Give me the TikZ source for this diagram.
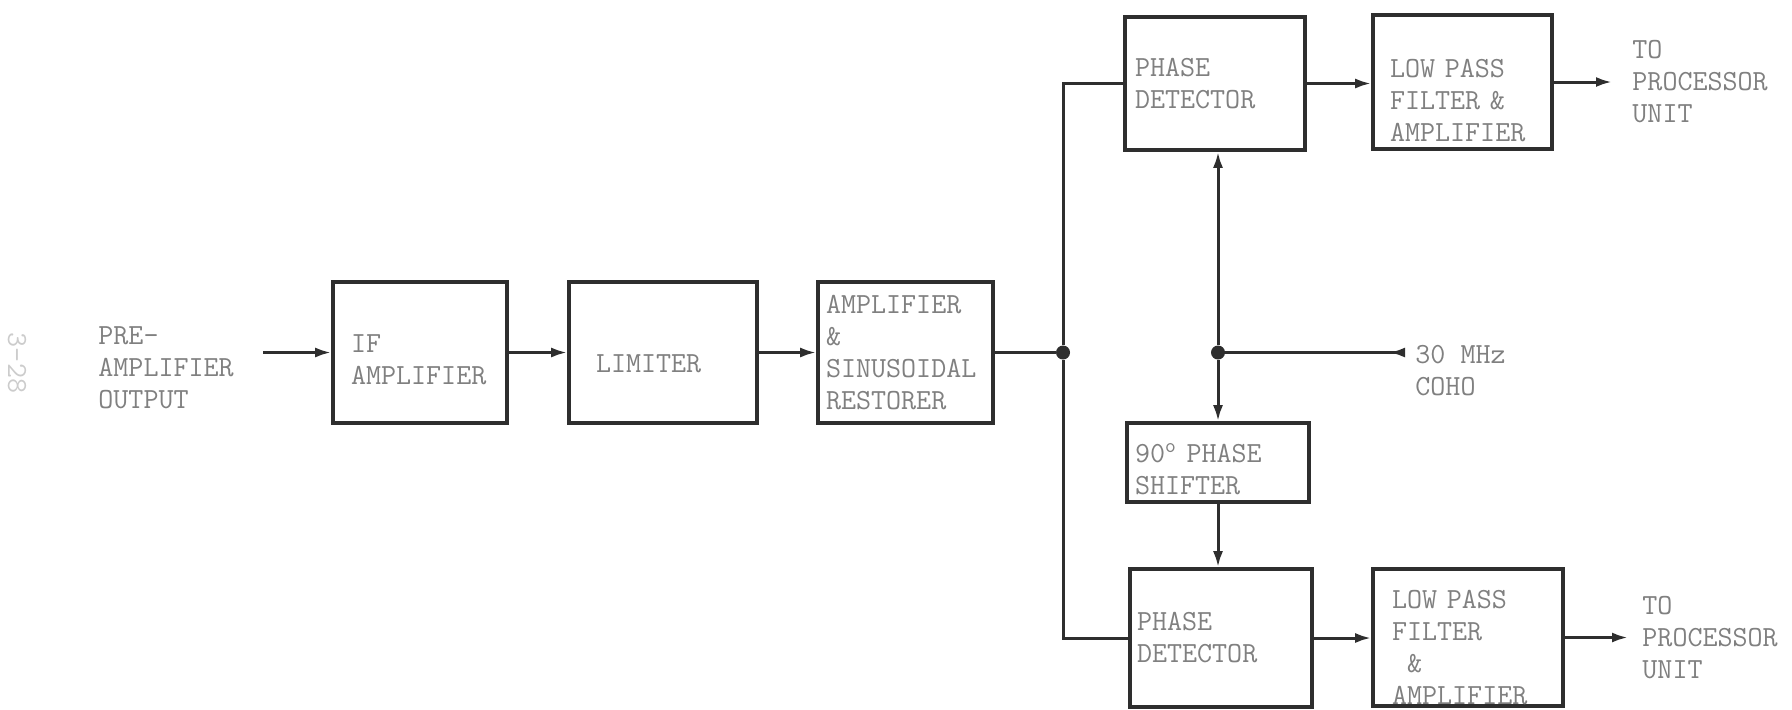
\documentclass[tikz,border=0pt]{standalone}
\usepackage{tikz}
\usetikzlibrary{arrows.meta}
\usepackage{xcolor}
\definecolor{ink}{gray}{0.18}
\definecolor{typed}{gray}{0.5}
\newcommand{\typedfont}{\ttfamily\fontsize{14.6}{16}\selectfont\hyphenpenalty=10000}
\newcommand{\topgap}[1]{\rule{0pt}{#1}}
\tikzset{
  block/.style={draw=ink,line width=1.8pt,align=left,inner ysep=0pt,text=typed,font=\typedfont},
  wire/.style={draw=ink,line width=1.5pt},
  dot/.style={circle,fill=ink,inner sep=0pt,minimum size=7pt},
  tag/.style={anchor=west,align=left,inner sep=0pt,text=typed,font=\typedfont},
}

\begin{document}
\begin{tikzpicture}[>={Latex[length=8pt,width=5pt]},x=0.5pt,y=-0.5pt]
\useasboundingbox (0,0) rectangle (1792,709);
% receiver chain
\node[tag,anchor=center,rotate=-90,text=black!20] (page) at (17,363) {3-28};
\node[tag] (preamp) at (98,368) {PRE-\\AMPLIFIER\\OUTPUT};
\node[block,text width=69pt,inner xsep=9pt,minimum height=70.5pt] (ifamp) at (420,352.5) {\topgap{16.5pt}IF\\AMPLIFIER};
\node[block,text width=67pt,inner xsep=13.5pt,minimum height=70.5pt] (limiter) at (663,352.5) {\topgap{20.5pt}LIMITER};
\node[block,text width=79.5pt,inner xsep=4pt,minimum height=70.5pt] (restorer) at (905.5,352.5) {AMPLIFIER\\\&\\SINUSOIDAL\\RESTORER};
% quadrature detectors
\node[block,text width=80pt,inner xsep=5pt,minimum height=66.5pt] (pdtop) at (1215,83.5) {PHASE\\DETECTOR};
\node[block,text width=72.5pt,inner xsep=8.5pt,minimum height=67pt] (lpftop) at (1462.5,82) {\topgap{28pt}LOW PASS\\FILTER \&\\AMPLIFIER};
\node[block,text width=83pt,inner xsep=4pt,minimum height=39.5pt] (shifter) at (1218,462.5) {\topgap{16.5pt}90\textsuperscript{o} PHASE\\SHIFTER};
\node[block,text width=84pt,inner xsep=3.5pt,minimum height=69pt] (pdbot) at (1221,638) {PHASE\\DETECTOR};
\node[block,text width=76pt,inner xsep=9.5pt,minimum height=68.5pt] (lpfbot) at (1468,637.5) {\topgap{19.5pt}LOW PASS\\FILTER\\\hphantom{A}\&\\AMPLIFIER};
\node[tag] (coho) at (1415,371) {30 MHz\\COHO};
\node[tag] (totop) at (1632,82) {TO\\PROCESSOR\\UNIT};
\node[tag] (tobot) at (1642,637.5) {TO\\PROCESSOR\\UNIT};
% junctions and free ends
\node[dot] (j1) at (1063,352.5) {};
\node[dot] (j2) at (1218,352.5) {};
\coordinate (in) at (263,352.5);
\coordinate (cohoin) at (1405,352.5);
\coordinate (outtop) at (1612,82);
\coordinate (outbot) at (1628,637.5);
% connections
\draw[wire,->] (in) -- (ifamp);
\draw[wire,->] (ifamp) -- (limiter);
\draw[wire,->] (limiter) -- (restorer);
\draw[wire] (restorer) -- (j1);
\draw[wire] (j1) |- (pdtop);
\draw[wire] (j1) |- (pdbot);
\draw[wire,->] (pdtop.east) -- (pdtop.east -| lpftop.west);
\draw[wire,->] (lpftop) -- (outtop);
\draw[wire,->] (pdbot.east) -- (pdbot.east -| lpfbot.west);
\draw[wire,->] (lpfbot) -- (outbot);
\draw[wire,->] (j2) -- (j2 |- pdtop.south);
\draw[wire,->] (j2) -- (shifter);
\draw[wire,->] (shifter.south) -- (shifter.south |- pdbot.north);
\draw[wire,-{Latex[length=8pt,width=5pt,reversed]}] (j2) -- (cohoin);
\end{tikzpicture}
\end{document}
